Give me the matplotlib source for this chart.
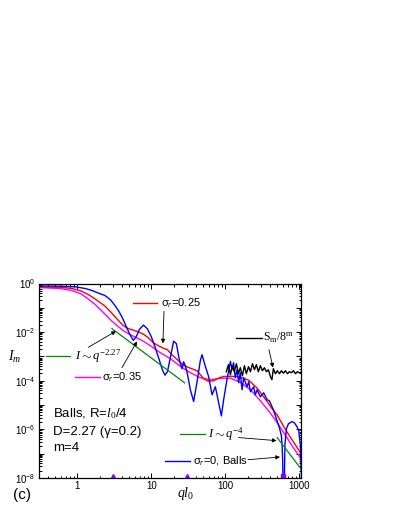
import matplotlib
matplotlib.use('Agg')
import matplotlib.pyplot as plt
from matplotlib.ticker import FixedLocator, FixedFormatter, NullFormatter

plt.rcParams['font.family'] = ['Liberation Sans', 'DejaVu Sans']
plt.rcParams['mathtext.fontset'] = 'custom'
plt.rcParams['mathtext.rm'] = 'Liberation Serif'
plt.rcParams['mathtext.it'] = 'Liberation Serif:italic'
plt.rcParams['mathtext.bf'] = 'Liberation Serif:bold'

# ---------------- data ----------------
q_blue = [0.297, 0.589, 0.940, 1.28, 1.59, 1.92, 2.37, 2.79, 3.16, 3.58, 4.06, 4.59, 5.15, 5.71,
          6.27, 6.88, 7.80, 8.83, 10.0, 11.3, 12.8, 14.1, 15.3, 16.5, 18.1, 20.0, 21.8, 23.9,
          26.0, 27.3, 28.8, 30.7, 33.7, 37.3, 41.5, 45.9, 48.4, 53.7, 59.5, 66.1, 73.3, 81.2,
          88.3, 94.8, 105, 117, 123, 129, 136, 144, 151, 159, 168, 177, 196, 207, 218, 241,
          254, 268, 297, 329, 366, 393, 445, 489, 537, 571, 584, 595, 604, 619, 637, 667,
          710, 797, 856, 931, 978, 1030, 1064, 1098]
I_blue = [0.789, 0.774, 0.731, 0.622, 0.514, 0.406, 0.320, 0.219, 0.136, 0.0792, 0.0396, 0.0169,
          7.88e-3, 4.59e-3, 6.52e-3, 0.0127, 0.0194, 0.0139, 6.52e-3, 2.30e-3, 7.34e-4, 2.84e-4,
          1.69e-4, 2.35e-4, 8.88e-4, 4.25e-3, 3.36e-3, 7.34e-4, 3.12e-4, 6.07e-4, 4.15e-4,
          1.94e-4, 4.25e-5, 1.40e-5, 9.09e-5, 6.68e-4, 1.18e-3, 3.89e-4, 1.46e-4, 2.65e-5,
          5.66e-5, 1.24e-5, 3.60e-6, 1.65e-5, 1.10e-4,
          6.25e-4, 2.84e-4, 5.52e-4, 1.33e-4, 2.84e-4, 8.27e-5, 2.14e-4, 4.25e-5, 1.33e-4,
          5.66e-5, 9.09e-5, 3.52e-5, 5.66e-5, 2.65e-5, 4.25e-5, 2.19e-5, 3.20e-5, 1.65e-5,
          1.50e-5, 6.37e-6, 2.71e-6, 1.15e-6, 5.40e-7, 2.09e-7, 4.57e-8, 1e-9, 1e-9, 2.30e-7,
          1.05e-6, 1.69e-6, 2.10e-6, 1.85e-6, 1.27e-6, 8.67e-7, 2.30e-7, 1.10e-8, 1e-9]

q_red = [0.297, 0.589, 0.856, 1.13, 1.41, 1.75, 2.37, 2.88, 3.58, 4.18, 4.89, 5.71, 6.67, 7.80,
         9.11, 10.6, 12.4, 14.5, 16.5, 18.6, 22.5, 27.1, 33.7, 41.5, 50.9, 58.9, 69.5, 80.4,
         94.8, 117, 144, 175, 207, 232, 268, 307, 366, 418, 499, 614, 756, 911, 1081]
I_red = [0.731, 0.697, 0.622, 0.491, 0.352, 0.230, 0.118, 0.0637, 0.0307, 0.0185, 0.0139,
         0.0121, 0.0102, 8.27e-3, 5.93e-3, 3.69e-3, 2.77e-3, 2.19e-3, 1.90e-3, 1.24e-3, 7.34e-4,
         4.36e-4, 3.28e-4, 2.58e-4, 1.21e-4, 9.54e-5, 1.00e-4, 1.27e-4, 1.50e-4, 1.53e-4,
         1.46e-4, 1.27e-4, 1.05e-4, 7.52e-5, 5.00e-5, 2.91e-5, 1.40e-5, 7.70e-6, 3.96e-6,
         1.30e-6, 4.68e-7, 1.99e-7, 8.88e-8]

q_mag = [0.297, 0.589, 0.848, 1.13, 1.41, 1.75, 2.37, 2.88, 3.58, 4.18, 4.89, 5.71, 6.67, 7.80,
         9.69, 13.2, 18.1, 24.7, 33.7, 45.9, 62.7, 85.6, 117, 159, 218, 297, 405, 525, 667, 830,
         1081]
I_mag = [0.684, 0.622, 0.514, 0.369, 0.230, 0.136, 0.0553, 0.0298, 0.0169, 0.0115, 8.67e-3,
         6.84e-3, 5.40e-3, 4.25e-3, 2.77e-3, 1.43e-3, 8.08e-4, 3.89e-4, 2.14e-4, 1.33e-4,
         1.10e-4, 1.27e-4, 1.27e-4, 8.67e-5, 4.25e-5, 1.50e-5, 4.66e-6, 1.53e-6, 4.91e-7,
         1.73e-7, 5.52e-8]

q_black = [103, 110, 117, 124, 132, 141, 150, 159, 170, 181, 192, 205, 218, 232, 247, 262, 279,
           297, 316, 337, 358, 381, 406, 425, 445, 474, 504, 537, 571, 608, 647, 688, 733, 780,
           830, 883, 940, 1000, 1081]
I_black = [2.35e-4, 4.57e-4, 1.77e-4, 4.16e-4, 2.35e-4, 5.02e-4, 1.94e-4, 3.44e-4, 1.61e-4,
           4.16e-4, 1.94e-4, 3.78e-4, 2.35e-4, 5.02e-4, 2.84e-4, 4.57e-4, 2.35e-4, 4.16e-4,
           2.58e-4, 3.44e-4, 2.35e-4, 2.84e-4, 1.46e-4, 1.10e-4, 3.13e-4, 1.94e-4, 2.58e-4,
           1.94e-4, 2.58e-4, 2.04e-4, 2.58e-4, 1.94e-4, 2.35e-4, 2.14e-4, 2.58e-4, 1.94e-4,
           2.35e-4, 2.14e-4, 2.35e-4]

q_fit1 = [2.94, 28.2]
I_fit1 = [1.39e-2, 8.2e-5]
q_fit2 = [500, 1087]
I_fit2 = [4.6e-7, 2.07e-8]

q_tri = [3, 30]
I_tri = [1e-8, 1e-8]
q_sq = [600]
I_sq = [1.2e-8]

x_ticks = [1, 10, 100, 1000]
x_ticklabels = ['1', '10', '100', '1000']
y_ticks = [1e-8, 1e-7, 1e-6, 1e-5, 1e-4, 1e-3, 1e-2, 1e-1, 1]
y_ticklabels = [r'$\mathdefault{10^{-8}}$', '', r'$\mathdefault{10^{-6}}$', '',
                r'$\mathdefault{10^{-4}}$', '', r'$\mathdefault{10^{-2}}$', '',
                r'$\mathdefault{10^{0}}$']

# ---------------- figure ----------------
fig = plt.figure(figsize=(3.95, 5.11), dpi=100)
ax = fig.add_axes([38.5 / 395, 33 / 511, 262.5 / 395, 194.5 / 511])

GREEN = '#008a00'
ax.plot(q_mag, I_mag, color='#ff00ff', lw=1.0)
ax.plot(q_red, I_red, color='#ff0000', lw=1.0)
ax.plot(q_blue, I_blue, color='#0000ff', lw=1.0)
ax.plot(q_black, I_black, color='black', lw=1.0)
ax.plot(q_fit1, I_fit1, color=GREEN, lw=0.9)
ax.plot(q_fit2, I_fit2, color=GREEN, lw=0.9)
ax.plot(q_tri, I_tri, linestyle='none', marker='^', ms=6, color='#8b00ff', clip_on=True)
ax.plot(q_sq, I_sq, linestyle='none', marker='s', ms=3.2, color='#8b00ff', clip_on=True)

ax.set_xscale('log')
ax.set_yscale('log')
ax.set_xlim(0.3, 1050)
ax.set_ylim(1e-8, 1)

ax.xaxis.set_major_locator(FixedLocator(x_ticks))
ax.xaxis.set_major_formatter(FixedFormatter(x_ticklabels))
xminor = [s * 10.0 ** k for k in range(-1, 4) for s in range(2, 10)]
ax.xaxis.set_minor_locator(FixedLocator(xminor))
ax.xaxis.set_minor_formatter(NullFormatter())
ax.yaxis.set_major_locator(FixedLocator(y_ticks))
ax.yaxis.set_major_formatter(FixedFormatter(y_ticklabels))
yminor = [s * 10.0 ** k for k in range(-8, 0) for s in range(2, 10)]
ax.yaxis.set_minor_locator(FixedLocator(yminor))
ax.yaxis.set_minor_formatter(NullFormatter())

ax.tick_params(which='both', direction='in', top=True, right=True, width=0.7, labelsize=7,
               pad=2)
ax.tick_params(which='major', length=3.5)
ax.tick_params(which='minor', length=1.8)
for sp in ax.spines.values():
    sp.set_linewidth(0.9)

# axis labels
fig.text(15 / 395, 1 - 357 / 511, r'$I_m$', fontsize=10, ha='center', va='center')
fig.text(186 / 395, 1 - 494 / 511, r'$ql_{\mathit{0}}$', fontsize=10, ha='center', va='center')
fig.text(22 / 395, 1 - 495 / 511, '(c)', fontsize=11, ha='center', va='center')

T = ax.transAxes
arrow_kw = dict(arrowstyle='-|>', lw=0.6, color='black', mutation_scale=6,
                shrinkA=0, shrinkB=0)

# I ~ q^-2.27
ax.plot([0.027, 0.12], [0.626, 0.626], color=GREEN, lw=0.9, transform=T)
ax.text(0.139, 0.626, r'$I \sim q^{\mathit{-2.27}}$', fontsize=9, transform=T,
        ha='left', va='center')
ax.annotate('', xy=(0.295, 0.755), xycoords=T, xytext=(0.19, 0.672), textcoords=T,
            arrowprops=arrow_kw)

# sigma 0.25
ax.plot([0.361, 0.451], [0.901, 0.901], color='#ff0000', lw=1.0, transform=T)
ax.text(0.466, 0.901, 'σ$_r$=0.25', fontsize=8, transform=T, ha='left', va='center')
ax.annotate('', xy=(0.474, 0.692), xycoords=T, xytext=(0.478, 0.857), textcoords=T,
            arrowprops=arrow_kw)

# sigma 0.35
ax.plot([0.139, 0.234], [0.518, 0.518], color='#ff00ff', lw=1.0, transform=T)
ax.text(0.241, 0.518, 'σ$_r$=0.35', fontsize=8, transform=T, ha='left', va='center')
ax.annotate('', xy=(0.375, 0.702), xycoords=T, xytext=(0.318, 0.567), textcoords=T,
            arrowprops=arrow_kw)

# S_m / 8^m
ax.plot([0.752, 0.851], [0.722, 0.722], color='black', lw=1.0, transform=T)
ax.text(0.857, 0.722, r'S$_\mathrm{m}$/8$^\mathrm{m}$', fontsize=8.5, transform=T,
        ha='left', va='center', family='Liberation Serif')
ax.annotate('', xy=(0.893, 0.568), xycoords=T, xytext=(0.878, 0.66), textcoords=T,
            arrowprops=arrow_kw)

# I ~ q^-4
ax.plot([0.539, 0.634], [0.227, 0.227], color=GREEN, lw=0.9, transform=T)
ax.text(0.646, 0.227, r'$I \sim q^{\mathit{-4}}$', fontsize=9, transform=T,
        ha='left', va='center')
ax.annotate('', xy=(0.907, 0.192), xycoords=T, xytext=(0.762, 0.208), textcoords=T,
            arrowprops=arrow_kw)

# sigma 0, Balls
ax.plot([0.482, 0.577], [0.088, 0.088], color='#0000ff', lw=1.0, transform=T)
ax.text(0.589, 0.088, 'σ$_r$=0, Balls', fontsize=8, transform=T, ha='left', va='center')
ax.annotate('', xy=(0.92, 0.108), xycoords=T, xytext=(0.798, 0.094), textcoords=T,
            arrowprops=arrow_kw)

# parameter block
ax.text(0.056, 0.333, r'Balls, R=$l_0$/4', fontsize=9.5, transform=T, ha='left', va='center')
ax.text(0.056, 0.239, 'D=2.27 (γ=0.2)', fontsize=9.5, transform=T, ha='left', va='center')
ax.text(0.056, 0.153, 'm=4', fontsize=9.5, transform=T, ha='left', va='center')

fig.savefig('out.png', dpi=100)
